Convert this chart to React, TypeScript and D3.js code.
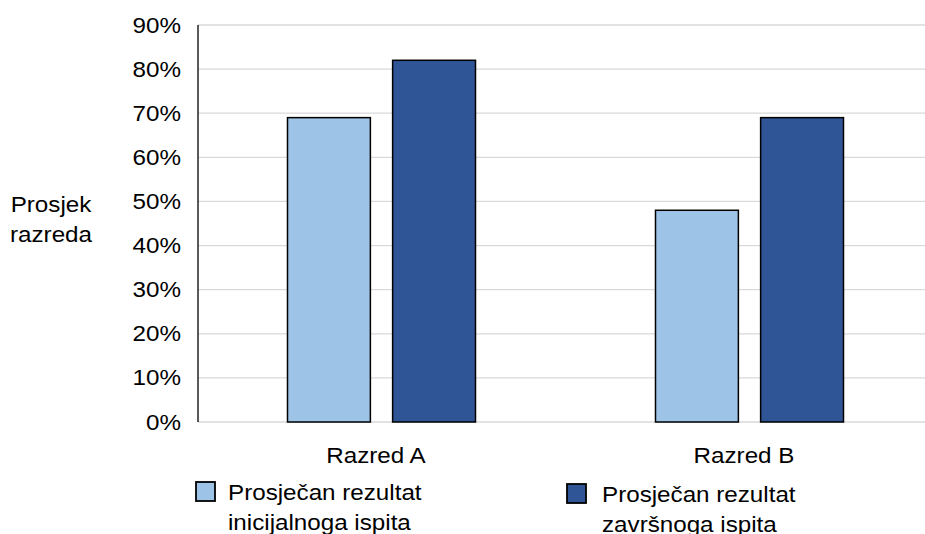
import React from "react";
import * as d3 from "d3";

const categories = ["Razred A", "Razred B"];
const seriesNames = ["Prosječan rezultat inicijalnoga ispita", "Prosječan rezultat završnoga ispita"];
const initialValues = [0.69, 0.48];
const finalValues = [0.82, 0.69];
const yTicks = [0, 0.1, 0.2, 0.3, 0.4, 0.5, 0.6, 0.7, 0.8, 0.9];
const legendLines = [
  ["Prosječan rezultat", "inicijalnoga ispita"],
  ["Prosječan rezultat", "završnoga ispita"],
];
const colors = ["#9DC3E6", "#2F5597"];

const W = 925;
const H = 534;
const FONT = "'Liberation Sans', Arial, sans-serif";
const FS = 22;
const SX = 1.1;

export default function App() {
  const x = d3.scaleBand<string>().domain(categories).range([197, 933]).paddingInner(0).paddingOuter(0);
  const xs = d3.scaleBand<number>().domain([0, 1]).range([0, 188]).paddingInner(22 / 104);
  const y = d3.scaleLinear().domain([0, 0.9]).range([422, 25]);
  const fmt = d3.format(".0%");
  const series = [initialValues, finalValues];

  const T = (props: { x: number; y: number; anchor?: string; children: React.ReactNode }) => (
    <text
      transform={`translate(${props.x},${props.y}) scale(${SX},1)`}
      textAnchor={props.anchor || "start"}
      fontFamily={FONT}
      fontSize={FS}
      fill="#000"
    >
      {props.children}
    </text>
  );

  const legendPos = [
    { sx: 196, sy: 482, tx: 228, ty: 500 },
    { sx: 567, sy: 484, tx: 602, ty: 502 },
  ];

  return (
    <svg width={W} height={H} style={{ position: "absolute", left: 0, top: 0, background: "#fff" }}>
      {yTicks.map((t) => (
        <g key={t}>
          <line x1={198} x2={W} y1={y(t)} y2={y(t)} stroke="#d9d9d9" strokeWidth={1.3} />
          <T x={181} y={y(t) + 7.5} anchor="end">{fmt(t)}</T>
        </g>
      ))}
      <line x1={198} x2={198} y1={y(0.9)} y2={y(0)} stroke="#000" strokeWidth={1.3} />
      {categories.map((c, i) => (
        <g key={c}>
          {series.map((s, j) => (
            <rect
              key={j}
              x={(x(c) as number) + 91 + (xs(j) as number) - 0.5}
              y={y(s[i])}
              width={xs.bandwidth()}
              height={y(0) - y(s[i])}
              fill={colors[j]}
              stroke="#000"
              strokeWidth={1.5}
            />
          ))}
          <T x={(x(c) as number) + x.bandwidth() / 2 - 5} y={463} anchor="middle">{c}</T>
        </g>
      ))}
      <T x={51} y={212} anchor="middle">Prosjek</T>
      <T x={51} y={242} anchor="middle">razreda</T>
      {seriesNames.map((n, j) => (
        <g key={n}>
          <rect x={legendPos[j].sx} y={legendPos[j].sy} width={19} height={19} fill={colors[j]} stroke="#000" strokeWidth={1.8} />
          <T x={legendPos[j].tx} y={legendPos[j].ty}>{legendLines[j][0]}</T>
          <T x={legendPos[j].tx} y={legendPos[j].ty + 30}>{legendLines[j][1]}</T>
        </g>
      ))}
    </svg>
  );
}
